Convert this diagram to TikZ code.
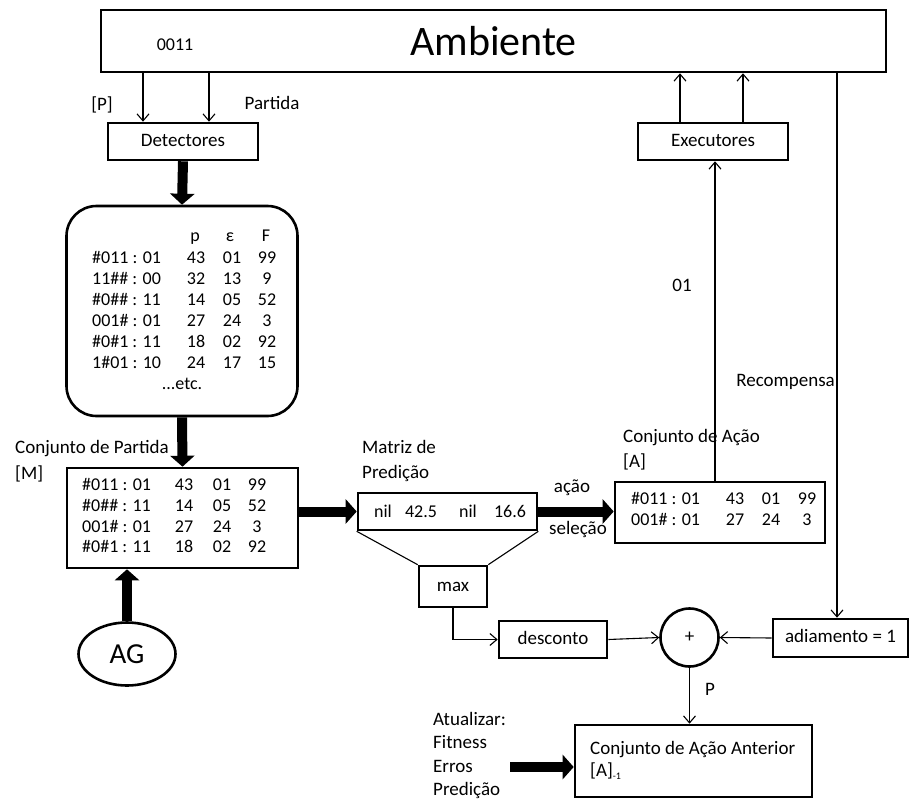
\documentclass[tikz,border=0pt]{standalone}
\usepackage{fontspec}
\setmainfont{Carlito}
\usetikzlibrary{arrows.meta,shapes.geometric,calc}
\begin{document}
\begin{tikzpicture}[x=1pt,y=-1pt,
  box/.style={draw,line width=2.6pt,inner sep=0pt},
  txt/.style={inner sep=0pt,font=\fontsize{19}{22}\selectfont,text height=12.5pt,text depth=3.5pt},
  tab/.style={inner sep=0pt,font=\fontsize{18}{21}\selectfont,text height=12pt,text depth=3pt},
  lbl/.style={txt,anchor=west},
  tabl/.style={tab,anchor=west},
  arr/.style={line width=1.1pt,-{Straight Barb[length=7pt,width=12pt,line width=1.1pt]}},
  bigarr/.style={line width=10pt,-{Triangle[length=11pt,width=24pt]}},
  ln/.style={line width=1.1pt}]
\useasboundingbox (0,0) rectangle (910,800);
% main boxes
\node[box,minimum width=785pt,minimum height=62pt,font=\fontsize{42}{46}\selectfont] (amb) at (493.5,41) {Ambiente};
\node[tab] (s0011) at (175,46) {0011};
\node[box,minimum width=150pt,minimum height=37pt,txt] (det) at (183,141.5) {Detectores};
\node[box,minimum width=150pt,minimum height=37pt,txt] (exe) at (713,141.5) {Executores};
\node[box,rounded corners=30pt,minimum width=231pt,minimum height=210pt] (pop) at (182,311) {};
\node[box,minimum width=231pt,minimum height=100pt] (mset) at (182.5,518) {};
\node[draw,line width=2.6pt,ellipse,minimum width=97pt,minimum height=63pt,inner sep=0pt,font=\fontsize{29}{31}\selectfont] (ag) at (127,654) {AG};
\node[box,minimum width=179pt,minimum height=37pt] (pa) at (447.5,511.5) {};
\node[box,minimum width=210pt,minimum height=61pt] (aset) at (720,512.5) {};
\node[box,minimum width=68pt,minimum height=41pt,txt] (max) at (453,586.5) {max};
\node[box,minimum width=108pt,minimum height=37pt,txt] (desc) at (553,639.5) {desconto};
\node[draw,line width=2.6pt,circle,minimum size=58pt,inner sep=0pt,txt] (plus) at (689.5,637.5) {+};
\node[box,minimum width=135pt,minimum height=38pt,txt] (adi) at (840.5,638) {adiamento = 1};
\node[box,minimum width=237pt,minimum height=72pt] (prev) at (693.5,761) {};
% population table
\node[tab] (hp) at (195,237) {p};
\node[tab] (he) at (230,237) {ε};
\node[tab] (hf) at (266,237) {F};
\foreach \c/\p/\e/\f [count=\n] in {{\#011 : 01}/43/01/99,{11\#\# : 00}/32/13/9,{\#0\#\# : 11}/14/05/52,{001\# : 01}/27/24/3,{\#0\#1 : 11}/18/02/92,{1\#01 : 10}/24/17/15}{
  \node[tabl] (pc\n) at (92,{238+21*\n}) {\c};
  \node[tab] (pp\n) at (196,{238+21*\n}) {\p};
  \node[tab] (pe\n) at (232,{238+21*\n}) {\e};
  \node[tab] (pf\n) at (267,{238+21*\n}) {\f};
}
\node[tab] (etc) at (182,385) {...etc.};
% match set table
\foreach \c/\p/\e/\f [count=\n] in {{\#011 : 01}/43/01/99,{\#0\#\# : 11}/14/05/52,{001\# : 01}/27/24/3,{\#0\#1 : 11}/18/02/92}{
  \node[tabl] (mc\n) at (82,{465.5+20.7*\n}) {\c};
  \node[tab] (mp\n) at (184,{465.5+20.7*\n}) {\p};
  \node[tab] (me\n) at (222,{465.5+20.7*\n}) {\e};
  \node[tab] (mf\n) at (257,{465.5+20.7*\n}) {\f};
}
% action set table
\foreach \c/\p/\e/\f [count=\n] in {{\#011 : 01}/43/01/99,{001\# : 01}/27/24/3}{
  \node[tabl] (ac\n) at (631,{479+21*\n}) {\c};
  \node[tab] (ap\n) at (735,{479+21*\n}) {\p};
  \node[tab] (ae\n) at (771,{479+21*\n}) {\e};
  \node[tab] (af\n) at (807,{479+21*\n}) {\f};
}
% prediction array
\node[tab] (pa1) at (383,513) {nil};
\node[tab] (pa2) at (421,513) {42.5};
\node[tab] (pa3) at (468,513) {nil};
\node[tab] (pa4) at (510,513) {16.6};
% labels
\node[txt] (lp) at (102,106) {[P]};
\node[txt] (lpart) at (272,105) {Partida};
\node[txt] (l01) at (682,287) {01};
\node[txt,anchor=east] (lrec) at (835,382) {Recompensa};
\node[lbl] (lcp) at (15,449) {Conjunto de Partida};
\node[lbl] (lm) at (15,475) {[M]};
\node[lbl] (lmp1) at (362,449) {Matriz de};
\node[lbl] (lmp2) at (362,474) {Predição};
\node[lbl] (lca) at (623,438) {Conjunto de Ação};
\node[lbl] (la) at (623,463) {[A]};
\node[txt] (lacao) at (572,488) {ação};
\node[txt] (lsel) at (578,530) {seleção};
\node[txt] (lP) at (710,691) {P};
\node[lbl] (lat1) at (433,721) {Atualizar:};
\node[lbl] (lat2) at (433,744) {Fitness};
\node[lbl] (lat3) at (433,768) {Erros};
\node[lbl] (lat4) at (433,791) {Predição};
\node[lbl] (lpr1) at (590,750) {Conjunto de Ação Anterior};
\node[lbl] (lpr2) at (590,772) {[A]\raisebox{-3pt}{\fontsize{10}{10}\selectfont -1}};
\coordinate (atu) at (510,767);
% thin connectors
\draw[arr] ([xshift=-40pt]det.north |- amb.south) -- ([xshift=-40pt]det.north);
\draw[arr] ([xshift=26pt]det.north |- amb.south) -- ([xshift=26pt]det.north);
\draw[arr] ([xshift=-33pt]exe.north) -- ([xshift=-33pt]exe.north |- amb.south);
\draw[arr] ([xshift=30pt]exe.north) -- ([xshift=30pt]exe.north |- amb.south);
\draw[arr] ([xshift=-5pt]aset.north) -- ([xshift=-5pt]aset.north |- exe.south);
\draw[arr] ([xshift=-3.5pt]adi.north |- amb.south) -- ([xshift=-3.5pt]adi.north);
\draw[ln] (pa.south west) -- (max.north west);
\draw[ln] (pa.south east) -- (max.north east);
\draw[arr] (max.south) |- (desc.west);
\draw[arr] (desc.east) -- (plus.west);
\draw[arr] (adi.west) -- (plus.east);
\draw[arr] (plus.south) -- (plus.south |- prev.north);
% thick connectors
\draw[bigarr] (det.south) -- (pop.north);
\draw[bigarr] (pop.south) -- (mset.north);
\draw[bigarr] (ag.north) -- (ag.north |- mset.south);
\draw[bigarr] (pa.west -| mset.east) -- (pa.west);
\draw[bigarr] (pa.east) -- (pa.east -| aset.west);
\draw[bigarr] (atu) -- (atu -| prev.west);
\end{tikzpicture}
\end{document}
